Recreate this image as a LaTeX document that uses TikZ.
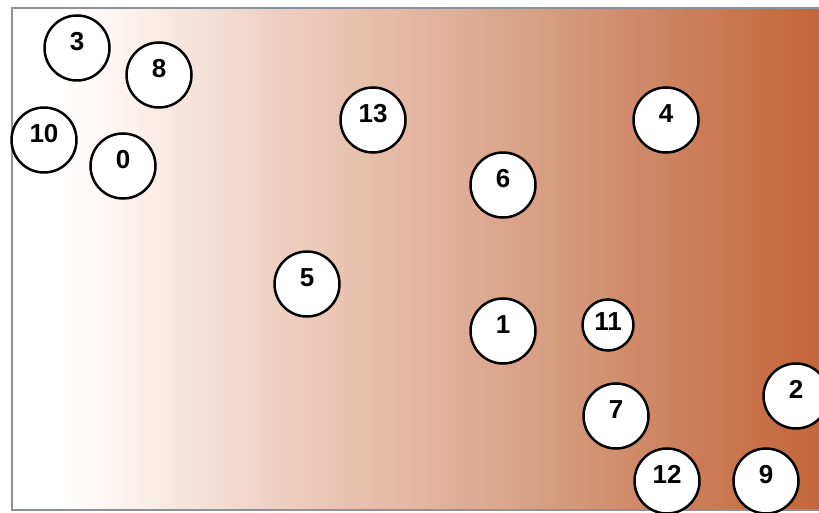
\documentclass[tikz,border=0pt]{standalone}
\usepackage{fontspec}
\setmainfont{Liberation Sans}
\definecolor{frameg}{RGB}{140,145,155}
\definecolor{bgA}{RGB}{253,246,243}
\definecolor{bgB}{RGB}{238,208,195}
\definecolor{bgC}{RGB}{228,183,162}
\definecolor{bgD}{RGB}{214,158,130}
\definecolor{bgE}{RGB}{204,128,92}
\definecolor{bgF}{RGB}{196,102,58}
\pgfdeclarehorizontalshading{bgshade}{100bp}{color(0bp)=(white); color(25bp)=(white); color(28bp)=(white); color(31.1bp)=(bgA); color(41.2bp)=(bgB); color(49.7bp)=(bgC); color(58.1bp)=(bgD); color(66.4bp)=(bgE); color(75bp)=(bgF); color(100bp)=(bgF)}
\tikzset{
  ball/.style={circle, draw=black, fill=white, line width=2.5pt, minimum size=65pt, inner sep=0pt,
    font=\fontsize{26}{26}\selectfont\bfseries, text height=19pt, text depth=14.4pt},
  smallball/.style={ball, minimum size=51pt, text depth=8.4pt}
}
\begin{document}
\begin{tikzpicture}[x=1pt,y=-1pt]
\useasboundingbox (0,0) rectangle (819,513);
\fill[white] (0,0) rectangle (819,513);
\shade[shading=bgshade] (12,8) rectangle (819,510);
\draw[frameg, line width=2pt] (819,8) -- (12,8) -- (12,510) -- (819,510);
\node[ball] (n3) at (77,48) {3};
\node[ball] (n8) at (159,75) {8};
\node[ball] (n10) at (44,140) {10};
\node[ball] (n0) at (123,166) {0};
\node[ball] (n13) at (373,120) {13};
\node[ball] (n4) at (666,120) {4};
\node[ball] (n6) at (503,185) {6};
\node[ball] (n5) at (307,284) {5};
\node[ball] (n1) at (503,331) {1};
\node[smallball] (n11) at (608,325) {11};
\node[ball] (n2) at (796,396) {2};
\node[ball] (n7) at (616,416) {7};
\node[ball] (n12) at (667,481) {12};
\node[ball] (n9) at (766,481) {9};
\end{tikzpicture}
\end{document}
